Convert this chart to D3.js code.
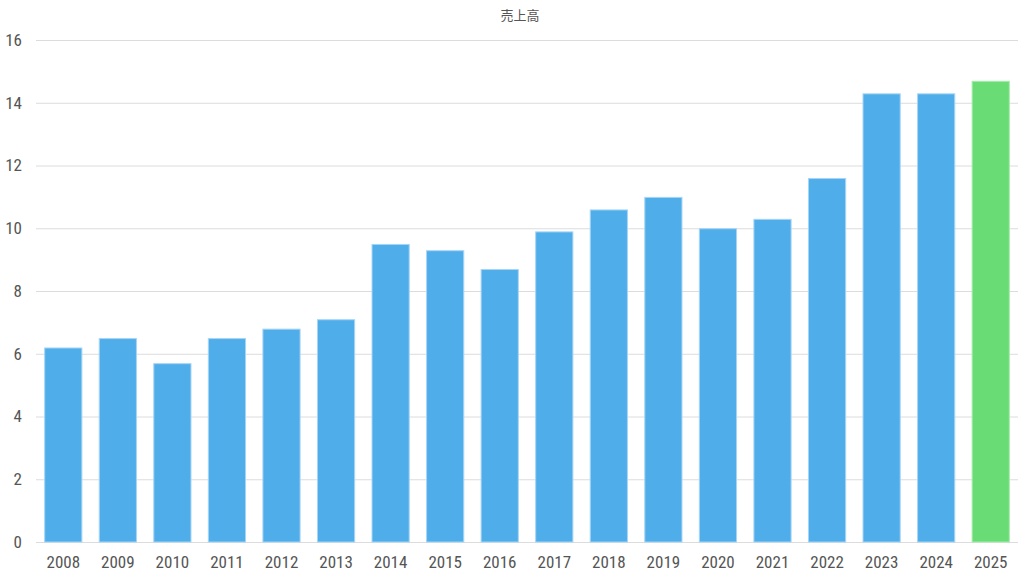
<!DOCTYPE html>
<html><head><meta charset="utf-8">
<script src="https://cdn.jsdelivr.net/npm/d3@7"></script>
<style>
body{margin:0;background:#fff;}
.tick text{font-family:"Liberation Sans Narrow","Roboto Condensed","DejaVu Sans Condensed",Roboto,sans-serif;fill:#555;}
</style></head><body>
<svg id="c" width="1024" height="576"></svg>
<script>
const years = ["2008","2009","2010","2011","2012","2013","2014","2015","2016","2017","2018","2019","2020","2021","2022","2023","2024","2025"];
const sales = [6.2,6.5,5.7,6.5,6.8,7.1,9.5,9.3,8.7,9.9,10.6,11.0,10.0,10.3,11.6,14.3,14.3,14.7];
const yTicks = [0,2,4,6,8,10,12,14,16];
const title = "売上高";

const svg = d3.select("#c");
const L=36, R=1018, T=40, B=542;
const x = d3.scaleBand().domain(years).range([L,R]).paddingInner(0.3).paddingOuter(0.15);
const y = d3.scaleLinear().domain([0,16]).range([B,T]);

svg.append("g").selectAll("line").data(yTicks).join("line")
  .attr("x1",L).attr("x2",R).attr("y1",d=>y(d)+0.5).attr("y2",d=>y(d)+0.5)
  .attr("stroke","#dcdcdc").attr("stroke-width",1);

const yAxis = svg.append("g").attr("transform",`translate(${L},0)`)
  .call(d3.axisLeft(y).tickValues(yTicks).tickSize(0).tickPadding(14));
yAxis.select(".domain").remove();
yAxis.selectAll("text").attr("font-size",17);

const xAxis = svg.append("g").attr("transform",`translate(0,${B})`)
  .call(d3.axisBottom(x).tickSize(0).tickPadding(14));
xAxis.select(".domain").remove();
xAxis.selectAll("text").attr("font-size",17);

svg.append("g").selectAll("rect").data(sales).join("rect")
  .attr("x",(d,i)=>x(years[i])+0.5).attr("width",x.bandwidth()-1)
  .attr("y",d=>y(d)+0.5).attr("height",d=>y(0)-y(d)-0.5)
  .attr("fill",(d,i)=>i===years.length-1?"#69DC76":"#4FADEA")
  .attr("stroke",(d,i)=>i===years.length-1?"#A8ECAE":"#A5D5F6").attr("stroke-width",1);

svg.append("text").attr("x",520).attr("y",20).attr("text-anchor","middle")
  .attr("font-family","'Noto Sans CJK JP',sans-serif").attr("font-size",13).attr("fill","#555").text(title);
</script></body></html>
